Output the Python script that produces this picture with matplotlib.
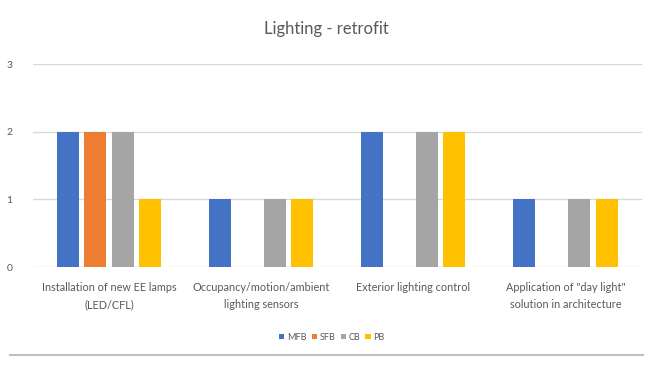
import matplotlib
matplotlib.use("Agg")
import matplotlib.pyplot as plt
import numpy as np

categories = [
    "Installation of new EE lamps\n(LED/CFL)",
    "Occupancy/motion/ambient\nlighting sensors",
    "Exterior lighting control",
    "Application of \"day light\"\nsolution in architecture",
]
series_names = ["MFB", "SFB", "CB", "PB"]
mfb = [2, 1, 2, 1]
sfb = [2, 0, 0, 0]
cb = [2, 1, 2, 1]
pb = [1, 1, 2, 1]
colors = ["#4472C4", "#ED7D31", "#A5A5A5", "#FFC000"]
y_ticks = [0, 1, 2, 3]

plt.rcParams["font.family"] = ["Lato", "DejaVu Sans"]

fig = plt.figure(figsize=(6.53, 3.70), dpi=100)
ax = fig.add_axes([0.0505, 0.278, 0.932, 0.549])

x = np.arange(len(categories))
bar_w = 0.145
step = 0.18
for i, (name, vals, c) in enumerate(zip(series_names, [mfb, sfb, cb, pb], colors)):
    offs = (i - 1.5) * step
    ax.bar(x + offs, vals, width=bar_w, color=c, label=name, zorder=3)

ax.set_xlim(-0.5, len(categories) - 0.5)
ax.set_ylim(0, 3)
ax.set_yticks(y_ticks)
ax.yaxis.grid(True, color="#D9D9D9", linewidth=1.0, zorder=0)
for s in ax.spines.values():
    s.set_visible(False)
ax.tick_params(axis="both", length=0)
ax.tick_params(axis="y", labelsize=7.5, labelcolor="#595959", pad=15)
ax.set_xticks(x)
ax.set_xticklabels(categories, fontsize=7.8, color="#595959", linespacing=1.75)
ax.tick_params(axis="x", pad=10.5)

fig.text(0.5, 0.922, "Lighting - retrofit", ha="center", va="center",
         fontsize=12, color="#595959")

fig.legend(loc="center", bbox_to_anchor=(0.508, 0.089), ncol=4, frameon=False,
           fontsize=6.5, handlelength=0.6, handleheight=0.6, handletextpad=0.25,
           columnspacing=0.6, labelcolor="#595959")

fig.add_artist(plt.Line2D([0.015, 0.985], [0.04, 0.04], color="#BFBFBF",
                          linewidth=1.5, transform=fig.transFigure))

fig.savefig("out.png", dpi=100, facecolor="white")
